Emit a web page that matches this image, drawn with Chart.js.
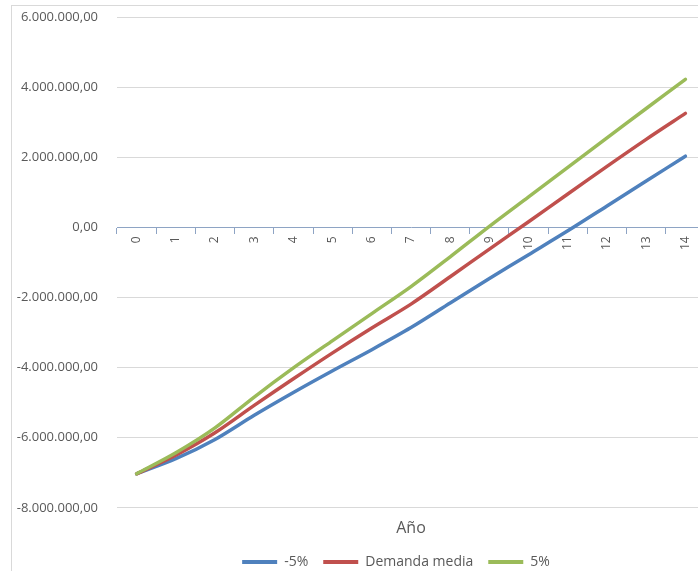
<!DOCTYPE html>
<html>
<head>
<meta charset="utf-8">
<script src="https://cdn.jsdelivr.net/npm/chart.js@4.4.1/dist/chart.umd.min.js"></script>
<style>
  html, body { margin: 0; padding: 0; width: 698px; height: 571px; overflow: hidden; background: #fff; }
  #frame { position: absolute; left: 11px; top: 5px; width: 760px; height: 620px;
           border-left: 1px solid #D9D9D9; border-top: 1px solid #D9D9D9; }
  #wrap { position: absolute; left: 0; top: 0; width: 700px; height: 573px; }
</style>
</head>
<body>
<div id="frame"><div id="wrap"><canvas id="c"></canvas></div></div>
<script>
// Años del horizonte de evaluación
const years = ['0','1','2','3','4','5','6','7','8','9','10','11','12','13','14'];

// Flujo de caja acumulado por escenario de demanda
const menos5 = [-7030000, -6600000, -6050000, -5360000, -4710000, -4090000, -3490000, -2860000,
                -2160000, -1460000, -780000, -100000, 610000, 1320000, 2030000];
const demandaMedia = [-7030000, -6500000, -5860000, -5080000, -4320000, -3580000, -2870000, -2190000,
                      -1410000, -620000, 160000, 950000, 1740000, 2510000, 3250000];
const mas5 = [-7030000, -6430000, -5720000, -4840000, -4010000, -3230000, -2460000, -1690000,
              -840000, 30000, 870000, 1710000, 2550000, 3390000, 4220000];

const seriesNames = ['-5%', 'Demanda media', '5%'];
const yTicks = { min: -8000000, max: 6000000, step: 2000000 };

const TEXT = '#595959';
const AXIS = '#8EA4C4';
const GRID = '#D9D9D9';
const COLORS = ['#4F81BD', '#C0504D', '#9BBB59'];

Chart.defaults.font.family = "'Open Sans', 'Liberation Sans', sans-serif";
Chart.defaults.color = TEXT;

// 6000000 -> "6.000.000,00"
function formatEs(v) {
  const neg = v < 0;
  const s = Math.round(Math.abs(v)).toString().replace(/\B(?=(\d{3})+(?!\d))/g, '.');
  return (neg ? '-' : '') + s + ',00';
}

// centre the legend row under the plot
const legendPlacer = {
  id: 'legendPlacer',
  afterLayout(chart) {
    const lg = chart.legend;
    if (!lg) return;
    const dx = 384 - (lg.left + lg.right) / 2;
    lg.left += dx;
    lg.right += dx;
  }
};

const series = [menos5, demandaMedia, mas5];
const datasets = series.map((data, i) => ({
  label: seriesNames[i],
  data: data,
  borderColor: COLORS[i],
  backgroundColor: COLORS[i],
  borderWidth: 3.5,
  borderCapStyle: 'round',
  borderJoinStyle: 'round',
  pointRadius: 0,
  tension: 0.3,
  order: 2 - i
}));

new Chart(document.getElementById('c'), {
  type: 'line',
  data: { labels: years, datasets: datasets },
  plugins: [legendPlacer],
  options: {
    responsive: true,
    maintainAspectRatio: false,
    animation: false,
    layout: { padding: { top: 11, right: 7, bottom: 0, left: 0 } },
    plugins: {
      tooltip: { enabled: false },
      legend: {
        position: 'bottom',
        labels: {
          boxWidth: 35,
          boxHeight: 4,
          padding: 15,
          color: TEXT,
          font: { size: 14 },
          sort: (a, b) => a.datasetIndex - b.datasetIndex,
          generateLabels(chart) {
            const items = Chart.defaults.plugins.legend.labels.generateLabels(chart);
            items.forEach(it => { it.lineWidth = 0; it.fillStyle = it.strokeStyle; });
            return items;
          }
        }
      }
    },
    scales: {
      x: {
        type: 'category',
        position: { y: 0 },
        offset: true,
        grid: { offset: true, drawOnChartArea: false, drawTicks: true, tickLength: 6, color: AXIS },
        border: { display: true, color: AXIS, width: 1 },
        ticks: { minRotation: 90, maxRotation: 90, autoSkip: false, color: TEXT, font: { size: 12 }, padding: 3 }
      },
      x2: {
        type: 'category',
        labels: years,
        position: 'bottom',
        grid: { display: false },
        border: { display: false },
        ticks: { display: false },
        title: { display: true, text: 'Año', color: TEXT, font: { size: 16 }, padding: { top: 3, bottom: 2 } }
      },
      y: {
        min: yTicks.min,
        max: yTicks.max,
        ticks: { stepSize: yTicks.step, callback: v => formatEs(v), color: TEXT, font: { size: 13 }, padding: 19 },
        grid: { color: c => (c.tick && c.tick.value === 0) ? 'rgba(0,0,0,0)' : GRID, drawTicks: false, lineWidth: 1 },
        border: { display: false },
        afterFit(s) { s.width = 105; s.paddingTop = 0; s.paddingBottom = 0; }
      }
    }
  }
});
</script>
</body>
</html>
